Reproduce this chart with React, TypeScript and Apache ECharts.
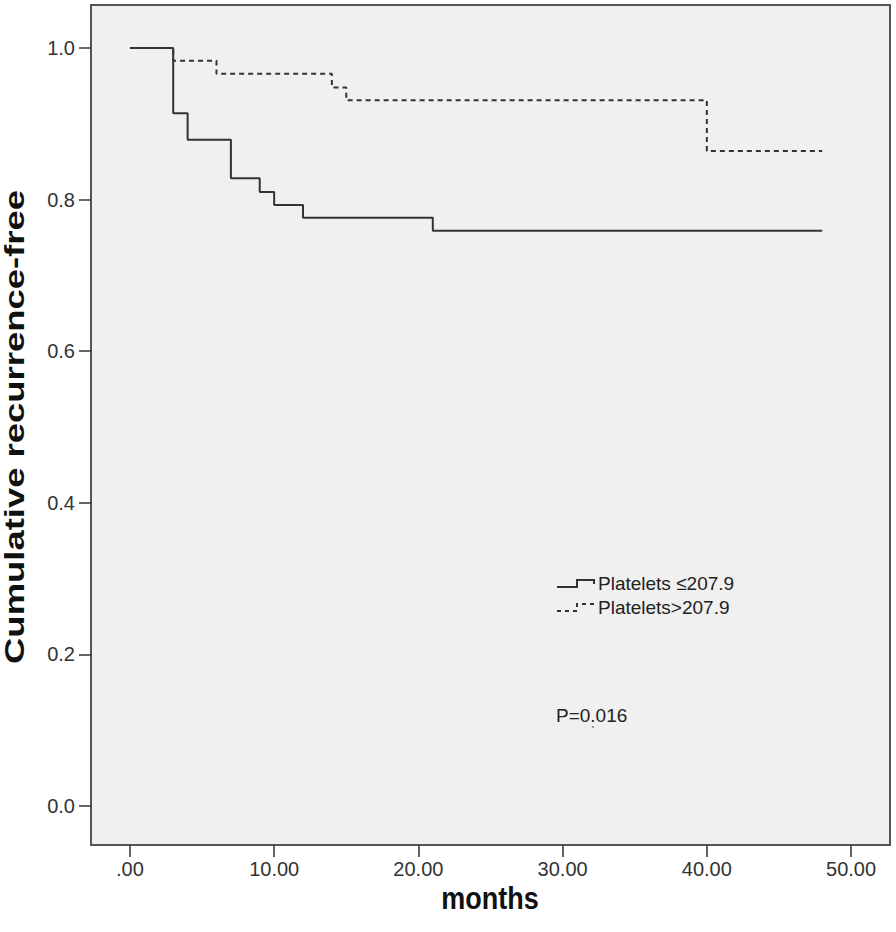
import React, { useEffect, useRef } from "react";
import * as echarts from "echarts";

// Kaplan–Meier steps
const lowMonths = [0, 3, 4, 7, 9, 10, 12, 21, 48];
const lowSurvival = [1.0, 0.914, 0.879, 0.828, 0.81, 0.793, 0.776, 0.759, 0.759];
const highMonths = [0, 3, 6, 14, 15, 40, 48];
const highSurvival = [1.0, 0.983, 0.966, 0.948, 0.931, 0.864, 0.864];

const xTicks = [0, 10, 20, 30, 40, 50];
const yTicks = [0, 0.2, 0.4, 0.6, 0.8, 1.0];

const legendLabels = ["Platelets \u2264207.9", "Platelets>207.9"];
const pValueText = "P=0.016";
const xTitle = "months";
const yTitle = "Cumulative recurrence-free";

const X_MIN = -2.7;
const X_MAX = 52.7;
const Y_MIN = -0.0515;
const Y_MAX = 1.0567;

export default function App() {
  const ref = useRef<HTMLDivElement>(null);
  useEffect(() => {
    if (!ref.current) return;
    const chart = echarts.init(ref.current, null, { renderer: "svg" });
    const lineCol = "#333333";
    const textFont = "Liberation Sans, Arial, sans-serif";
    const legendX = 557;
    const legendY1 = 583;
    const legendY2 = 607;
    chart.setOption({
      animation: false,
      backgroundColor: "#ffffff",
      grid: {
        left: 91,
        top: 5,
        right: 6,
        bottom: 87,
        show: true,
        backgroundColor: "#f0f0f0",
        borderColor: "#555555",
        borderWidth: 2,
      },
      xAxis: {
        type: "value",
        min: X_MIN,
        max: X_MAX,
        axisLine: { show: false, onZero: false },
        splitLine: { show: false },
        axisTick: {
          show: true,
          inside: false,
          length: 12,
          customValues: xTicks,
          lineStyle: { color: "#333", width: 1.5 },
        },
        axisLabel: {
          customValues: xTicks,
          margin: 14,
          color: "#333",
          fontSize: 20,
          fontFamily: textFont,
          formatter: (v: number) => (v === 0 ? ".00" : v.toFixed(2)),
        },
      },
      yAxis: {
        type: "value",
        min: Y_MIN,
        max: Y_MAX,
        axisLine: { show: false, onZero: false },
        splitLine: { show: false },
        axisTick: {
          show: true,
          inside: false,
          length: 12,
          customValues: yTicks,
          lineStyle: { color: "#333", width: 1.5 },
        },
        axisLabel: {
          customValues: yTicks,
          margin: 16,
          color: "#333",
          fontSize: 20,
          fontFamily: textFont,
          formatter: (v: number) => v.toFixed(1),
        },
      },
      series: [
        {
          name: legendLabels[0],
          type: "line",
          step: "end",
          symbol: "none",
          data: lowMonths.map((m, i) => [m, lowSurvival[i]]),
          lineStyle: { color: lineCol, width: 2 },
          z: 3,
        },
        {
          name: legendLabels[1],
          type: "line",
          step: "end",
          symbol: "none",
          data: highMonths.map((m, i) => [m, highSurvival[i]]),
          lineStyle: { color: lineCol, width: 2, type: [5, 4] },
          z: 2,
        },
      ],
      graphic: [
        {
          type: "text",
          x: 15,
          y: 427,
          rotation: Math.PI / 2,
          scaleX: 1.35,
          style: {
            text: yTitle,
            font: "bold 27px Liberation Sans, Arial, sans-serif",
            fill: "#111",
            align: "center",
            verticalAlign: "middle",
          },
        },
        {
          type: "text",
          x: 490,
          y: 898,
          scaleY: 1.15,
          style: {
            text: xTitle,
            font: "bold 27px Liberation Sans, Arial, sans-serif",
            fill: "#111",
            align: "center",
            verticalAlign: "middle",
          },
        },
        {
          type: "polyline",
          shape: {
            points: [
              [legendX, legendY1 + 4],
              [legendX + 20, legendY1 + 4],
              [legendX + 20, legendY1 - 3],
              [legendX + 37, legendY1 - 3],
              [legendX + 37, legendY1 + 1],
            ],
          },
          style: { stroke: lineCol, lineWidth: 2, fill: "none" },
        },
        {
          type: "polyline",
          shape: {
            points: [
              [legendX, legendY2 + 4],
              [legendX + 20, legendY2 + 4],
              [legendX + 20, legendY2 - 3],
              [legendX + 37, legendY2 - 3],
              [legendX + 37, legendY2 + 1],
            ],
          },
          style: { stroke: lineCol, lineWidth: 2, fill: "none", lineDash: [4, 4] },
        },
        {
          type: "text",
          x: legendX + 41,
          y: legendY1,
          style: {
            text: legendLabels[0],
            font: "19px Liberation Sans, Arial, sans-serif",
            fill: "#222",
            align: "left",
            verticalAlign: "middle",
          },
        },
        {
          type: "text",
          x: legendX + 41,
          y: legendY2,
          style: {
            text: legendLabels[1],
            font: "19px Liberation Sans, Arial, sans-serif",
            fill: "#222",
            align: "left",
            verticalAlign: "middle",
          },
        },
        {
          type: "text",
          x: 556,
          y: 715,
          style: {
            text: pValueText,
            font: "19px Liberation Sans, Arial, sans-serif",
            fill: "#222",
            align: "left",
            verticalAlign: "middle",
          },
        },
        {
          type: "circle",
          shape: { cx: 593, cy: 727, r: 1.2 },
          style: { fill: "#999" },
        },
      ],
    });
    return () => chart.dispose();
  }, []);
  return (
    <div
      ref={ref}
      style={{ position: "fixed", left: 0, top: 0, width: 896, height: 932 }}
    />
  );
}
